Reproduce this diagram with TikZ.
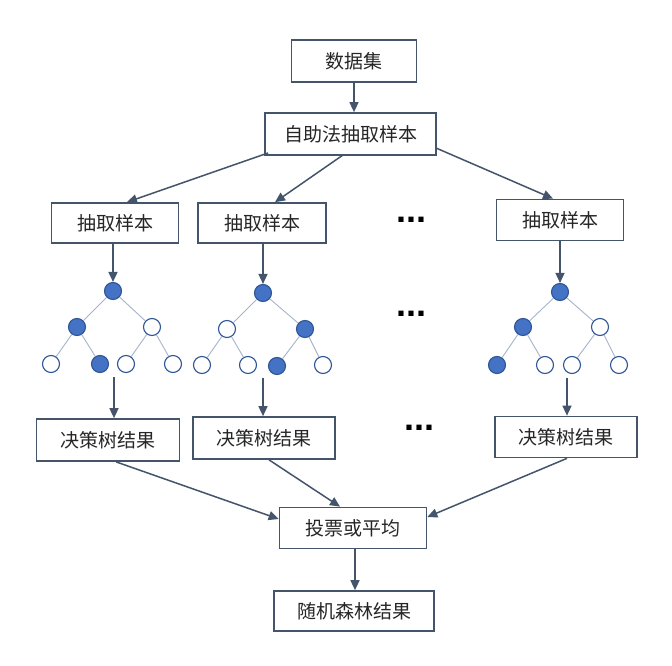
\documentclass[tikz,border=0pt]{standalone}
\usepackage{fontspec}
\newfontfamily\cjk{Noto Sans CJK SC}
\newfontfamily\dotfont{Liberation Sans}
\usetikzlibrary{arrows.meta,calc}
\definecolor{boxline}{HTML}{44546A}
\definecolor{arrcol}{HTML}{44546A}
\definecolor{nodefill}{HTML}{4472C4}
\definecolor{nodeline}{HTML}{2F5597}
\definecolor{edgecol}{HTML}{A5B4CC}
\definecolor{txt}{HTML}{262626}
\tikzset{
  x=1pt, y=-1pt,
  box/.style={draw=boxline, line width=1.7pt, fill=white, inner sep=0pt,
    font=\cjk\fontsize{19}{22}\selectfont, text=txt},
  arr/.style={draw=arrcol, line width=1.5pt, -{Triangle[length=10pt,width=9pt]}},
  fnode/.style={circle, draw=nodeline, fill=nodefill, line width=1.1pt, minimum size=17pt, inner sep=0pt},
  enode/.style={circle, draw=nodeline, fill=white, line width=1.1pt, minimum size=17pt, inner sep=0pt},
  tedge/.style={draw=edgecol, line width=0.9pt},
  dots/.style={font=\dotfont\bfseries\fontsize{36}{36}\selectfont, text=black, inner sep=0pt}
}
\begin{document}
\begin{tikzpicture}
\useasboundingbox[fill=white] (0,0) rectangle (672,666);

% boxes
\node[box, minimum width=125pt, minimum height=42pt] (data) at (354,61) {数据集};
\node[box, minimum width=171pt, minimum height=42pt] (boot) at (350.5,134) {自助法抽取样本};
\node[box, minimum width=127pt, minimum height=40pt] (s1) at (115,223) {抽取样本};
\node[box, minimum width=128pt, minimum height=40pt] (s2) at (262,223) {抽取样本};
\node[box, minimum width=127pt, minimum height=41pt] (s3) at (560,220) {抽取样本};
\node[box, minimum width=143pt, minimum height=42pt] (r1) at (108,440) {决策树结果};
\node[box, minimum width=142pt, minimum height=42pt] (r2) at (264,438) {决策树结果};
\node[box, minimum width=142pt, minimum height=41pt] (r3) at (566,437) {决策树结果};
\node[box, minimum width=147pt, minimum height=41pt] (vote) at (353,528) {投票或平均};
\node[box, minimum width=160pt, minimum height=40pt] (rf) at (354,611) {随机森林结果};

% dots
\node[dots] (d1) at (411,220) {...};
\node[dots] (d2) at (411,314) {...};
\node[dots] (d3) at (419,428) {...};

% tree 1
\node[fnode] (a0) at (113,291) {};
\node[fnode] (a1) at (77,327) {};
\node[enode] (a2) at (152,327) {};
\node[enode] (a3) at (51,364) {};
\node[fnode] (a4) at (100,364) {};
\node[enode] (a5) at (126,364) {};
\node[enode] (a6) at (173,364) {};
\draw[tedge] (a0) -- (a1); \draw[tedge] (a0) -- (a2);
\draw[tedge] (a1) -- (a3); \draw[tedge] (a1) -- (a4);
\draw[tedge] (a2) -- (a5); \draw[tedge] (a2) -- (a6);

% tree 2
\node[fnode] (b0) at (263,293) {};
\node[enode] (b1) at (227,329) {};
\node[fnode] (b2) at (305,329) {};
\node[enode] (b3) at (202,365) {};
\node[enode] (b4) at (248,365) {};
\node[fnode] (b5) at (277,366) {};
\node[enode] (b6) at (323,365) {};
\draw[tedge] (b0) -- (b1); \draw[tedge] (b0) -- (b2);
\draw[tedge] (b1) -- (b3); \draw[tedge] (b1) -- (b4);
\draw[tedge] (b2) -- (b5); \draw[tedge] (b2) -- (b6);

% tree 3
\node[fnode] (c0) at (560,292) {};
\node[fnode] (c1) at (523,327) {};
\node[enode] (c2) at (600,327) {};
\node[fnode] (c3) at (497,365) {};
\node[enode] (c4) at (545,365) {};
\node[enode] (c5) at (572,365) {};
\node[enode] (c6) at (619,365) {};
\draw[tedge] (c0) -- (c1); \draw[tedge] (c0) -- (c2);
\draw[tedge] (c1) -- (c3); \draw[tedge] (c1) -- (c4);
\draw[tedge] (c2) -- (c5); \draw[tedge] (c2) -- (c6);

% arrows top
\draw[arr] (data.south) -- (data.south |- boot.north);
\coordinate (bl) at (268,153);
\coordinate (bm) at (343,155);
\coordinate (br) at (436,148);
\draw[arr] (bl) -- (s1.north -| 127,0);
\draw[arr] (bm) -- (s2.north -| 275,0);
\draw[arr] (br) -- (s3.north -| 553,0);

% sample to tree root
\draw[arr] (s1.south -| a0) -- (a0.north);
\draw[arr] (s2.south -| b0) -- (b0.north);
\draw[arr] (s3.south -| c0) -- (c0.north);

% tree to result
\coordinate (t1) at (114,377);
\coordinate (t2) at (263,378);
\coordinate (t3) at (567,378);
\draw[arr] (t1) -- (r1.north -| t1);
\draw[arr] (t2) -- (r2.north -| t2);
\draw[arr] (t3) -- (r3.north -| t3);

% results to vote
\draw[arr] (r1.south -| 116,0) -- (vote.west |- 0,519);
\draw[arr] (r2.south -| 269,0) -- (vote.north -| 340,0);
\draw[arr] (r3.south -| 567,0) -- (vote.east |- 0,517);
\draw[arr] (vote.south -| 355,0) -- (rf.north -| 355,0);
\end{tikzpicture}
\end{document}
